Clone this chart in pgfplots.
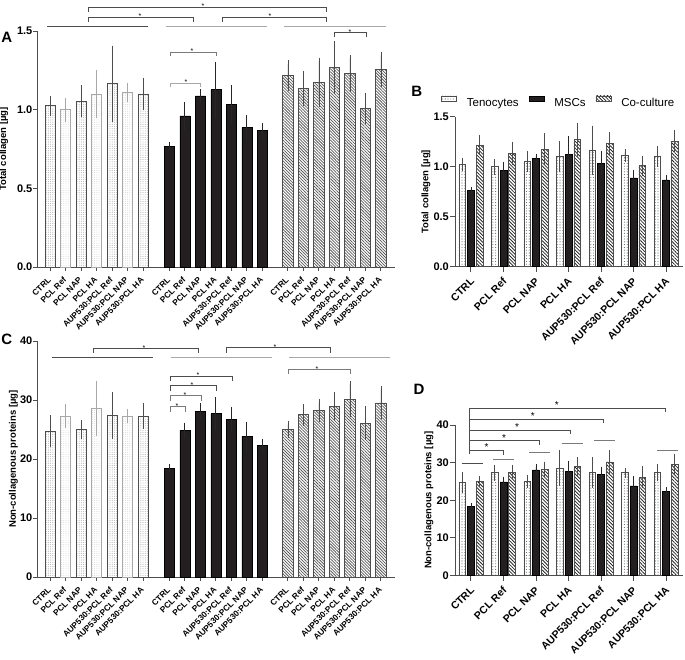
\documentclass[border=0pt]{standalone}
\usepackage{pgfplots}
\usepackage{pgfplotstable}
\pgfplotsset{compat=1.18}
\usepackage{fontspec}
\setmainfont{Liberation Sans}
\usetikzlibrary{patterns.meta}

\definecolor{msc}{HTML}{231F20}
\definecolor{dk}{HTML}{4D4D4D}
\definecolor{lt}{HTML}{A8A8A8}
\definecolor{md}{HTML}{7A7A7A}
\newcommand{\fs}[1]{\fontsize{#1}{#1}\selectfont}

% Total collagen [ug]
\pgfplotstableread{
i y e
0 1.025 0.040
1 1.000 0.055
2 1.053 0.080
3 1.100 0.130
4 1.165 0.220
5 1.110 0.040
6 1.100 0.080
}\colT
\pgfplotstableread{
i y e
0 0.767 0.005
1 0.960 0.065
2 1.087 0.020
3 1.127 0.155
4 1.036 0.097
5 0.888 0.057
6 0.869 0.025
}\colM
\pgfplotstableread{
i y e
0 1.216 0.076
1 1.133 0.090
2 1.174 0.135
3 1.269 0.146
4 1.230 0.097
5 1.010 0.076
6 1.257 0.089
}\colC
% Non-collagenous proteins [ug]
\pgfplotstableread{
i y e
0 24.75 2.10
1 27.30 1.50
2 25.00 1.10
3 28.60 4.10
4 27.35 3.40
5 27.30 0.60
6 27.30 1.60
}\ncT
\pgfplotstableread{
i y e
0 18.47 0.10
1 24.86 0.70
2 28.08 0.80
3 27.68 2.20
4 26.78 1.47
5 23.84 1.90
6 22.37 0.40
}\ncM
\pgfplotstableread{
i y e
0 24.97 0.90
1 27.50 1.25
2 28.25 1.35
3 28.93 1.80
4 30.17 2.50
5 26.10 2.30
6 29.50 2.20
}\ncC

\tikzset{
  sig/.style={font=\fs{7}, anchor=base, inner sep=0pt, yshift=-1.8pt},
  sigD/.style={font=\fs{10}, anchor=base, inner sep=0pt, yshift=-0.5pt},
}
\pgfplotsset{
  panel/.style={
    scale only axis, clip=false,
    axis x line*=bottom, axis y line*=left,
    axis line style={dk, line width=0.9pt},
    tick style={dk, line width=0.9pt},
    tick align=outside,
    ymin=0,
    yticklabel style={font=\fs{11}\bfseries, inner sep=1pt},
    ylabel style={font=\fs{9.5}\bfseries},
  },
  smallpanel/.style={panel, major tick length=3.5pt,
    xticklabel style={font=\fs{8.3}\bfseries, inner sep=0pt, anchor=base east,
      xshift=1.5pt, yshift=-10pt, rotate=45}},
  bigpanel/.style={panel, major tick length=5pt,
    xticklabel style={font=\fs{10.5}\bfseries, inner sep=0pt, anchor=base east,
      xshift=4pt, yshift=-10.5pt, rotate=45}},
  eb/.style n args={3}{error bars/y dir=both, error bars/y explicit,
    error bars/error bar style={#1, line width=#3},
    error bars/error mark options={#1, mark size=#2, line width=#3}},
  % panel A / C styles
  tenAlt/.style={ybar, bar shift=0pt, bar width=0.65, draw=lt, line width=0.8pt,
    pattern={Dots[distance=2.2pt, radius=0.45pt]}, pattern color=gray!40,
    eb={lt}{3.5pt}{0.8pt}},
  tenAdk/.style={ybar, bar shift=0pt, bar width=0.65, draw=dk, line width=0.8pt,
    pattern={Dots[distance=2.2pt, radius=0.45pt]}, pattern color=gray!60,
    eb={dk}{3.5pt}{0.8pt}},
  mscA/.style={ybar, bar shift=0pt, bar width=0.65, draw=black, fill=msc, line width=0.6pt,
    eb={black!85}{3.5pt}{0.8pt}},
  cocA/.style={ybar, bar shift=0pt, bar width=0.65, draw=dk, line width=0.8pt,
    pattern={Lines[angle=-45, distance=2.1pt, line width=0.75pt]}, pattern color=gray!70!black,
    eb={dk}{3.5pt}{0.8pt}},
  % panel B / D styles
  boxlegend/.style={legend image code/.code={\draw[##1] (0pt,2.5pt) rectangle (15pt,7.5pt);}},
  tenB/.style={ybar, bar shift=0pt, bar width=0.206, draw=dk, line width=0.7pt,
    pattern={Dots[distance=2.8pt, radius=0.55pt]}, pattern color=black!60, boxlegend,
    eb={dk}{2.5pt}{0.7pt}},
  mscB/.style={ybar, bar shift=0pt, bar width=0.206, draw=black, fill=msc, line width=0.6pt, boxlegend,
    eb={black!85}{2.5pt}{0.7pt}},
  cocB/.style={ybar, bar shift=0pt, bar width=0.206, draw=dk, line width=0.7pt,
    pattern={Lines[angle=-45, distance=2.4pt, line width=0.8pt]}, pattern color=black!85, boxlegend,
    eb={dk}{2.5pt}{0.7pt}},
}

\begin{document}
\begin{tikzpicture}
\path[use as bounding box] (0pt,0pt) rectangle (685pt,-659pt);

\node[font=\fs{15}\bfseries] at (6.7pt,-37.5pt) {A};
\node[font=\fs{15}\bfseries] at (416.7pt,-91.7pt) {B};
\node[font=\fs{15}\bfseries] at (6.7pt,-339pt) {C};
\node[font=\fs{15}\bfseries] at (419pt,-389pt) {D};

% ---------------- Panel A ----------------
\begin{axis}[smallpanel,
  at={(37pt,-267pt)}, anchor=south west,
  width=358pt, height=236pt,
  xmin=-0.84, xmax=22.26, ymax=1.5,
  ytick={0,0.5,1,1.5}, yticklabels={0.0,0.5,1.0,1.5},
  xtick={0,1,2,3,4,5,6,7.7,8.7,9.7,10.7,11.7,12.7,13.7,15.35,16.35,17.35,18.35,19.35,20.35,21.35},
  xticklabels={CTRL,PCL Ref,PCL NAP,PCL HA,AUP530:PCL Ref,AUP530:PCL NAP,AUP530:PCL HA,
               CTRL,PCL Ref,PCL NAP,PCL HA,AUP530:PCL Ref,AUP530:PCL NAP,AUP530:PCL HA,
               CTRL,PCL Ref,PCL NAP,PCL HA,AUP530:PCL Ref,AUP530:PCL NAP,AUP530:PCL HA},
  ylabel={Total collagen [µg]},
  ylabel style={at={(axis description cs:-0.093,0.5)}, anchor=center},
  filter discard warning=false,
]
\addplot[tenAlt] table[x=i, y=y, y error=e]{\colT};
\addplot[tenAdk, each nth point=2] table[x=i, y=y, y error=e]{\colT};
\addplot[mscA] table[x expr=\thisrow{i}+7.7, y=y, y error=e]{\colM};
\addplot[cocA] table[x expr=\thisrow{i}+15.35, y=y, y error=e]{\colC};

\draw[dk, line width=0.8pt] (axis cs:2.45,1.621) |- (axis cs:17.81,1.653) -- (axis cs:17.81,1.621);
\node[sig] at (axis cs:9.87,1.653) {*};
\draw[dk, line width=0.8pt] (axis cs:2.45,1.557) |- (axis cs:9.23,1.589) -- (axis cs:9.23,1.557);
\node[sig] at (axis cs:5.81,1.589) {*};
\draw[dk, line width=0.8pt] (axis cs:11.10,1.557) |- (axis cs:17.81,1.589) -- (axis cs:17.81,1.557);
\node[sig] at (axis cs:14.19,1.589) {*};
\draw[dk, line width=0.8pt] (axis cs:-0.19,1.532) -- (axis cs:6.32,1.532);
\draw[lt, line width=0.9pt] (axis cs:7.48,1.532) -- (axis cs:14.0,1.532);
\draw[lt, line width=0.9pt] (axis cs:15.1,1.532) -- (axis cs:21.68,1.532);
\draw[md, line width=0.8pt] (axis cs:7.74,1.338) |- (axis cs:10.71,1.367) -- (axis cs:10.71,1.338);
\node[sig] at (axis cs:9.16,1.367) {*};
\draw[lt, line width=0.8pt] (axis cs:7.74,1.141) |- (axis cs:9.68,1.17) -- (axis cs:9.68,1.141);
\node[sig] at (axis cs:8.77,1.17) {*};
\draw[dk, line width=0.8pt] (axis cs:18.32,1.459) |- (axis cs:20.39,1.488) -- (axis cs:20.39,1.459);
\node[sig] at (axis cs:19.35,1.488) {*};
\end{axis}

% ---------------- Panel B ----------------
\begin{axis}[bigpanel,
  at={(455pt,-266.7pt)}, anchor=south west,
  width=228pt, height=150pt,
  xmin=-0.49, xmax=6.52, ymax=1.5,
  ytick={0,0.5,1,1.5}, yticklabels={0.0,0.5,1.0,1.5},
  xtick={0,1,2,3,4,5,6},
  xticklabels={CTRL,PCL Ref,PCL NAP,PCL HA,AUP530:PCL Ref,AUP530:PCL NAP,AUP530:PCL HA},
  ylabel={Total collagen [µg]},
  ylabel style={at={(axis description cs:-0.127,0.5)}, anchor=center},
  legend style={draw=none, fill=none, at={(axis description cs:-0.0614,1.098)}, anchor=west,
    inner sep=0pt, legend columns=3, font=\fs{11.5}, nodes={inner sep=0pt},
    /tikz/every odd column/.append style={column sep=10pt},
    /tikz/every even column/.append style={column sep=10pt}},
]
\addplot[tenB] table[x expr=\thisrow{i}-0.268, y=y, y error=e]{\colT};
\addlegendentry{Tenocytes}
\addplot[mscB] table[x=i, y=y, y error=e]{\colM};
\addlegendentry{MSCs}
\addplot[cocB] table[x expr=\thisrow{i}+0.268, y=y, y error=e]{\colC};
\addlegendentry{Co-culture}
\end{axis}

% ---------------- Panel C ----------------
\begin{axis}[smallpanel,
  at={(37pt,-577pt)}, anchor=south west,
  width=358pt, height=236pt,
  xmin=-0.84, xmax=22.26, ymax=40,
  ytick={0,10,20,30,40}, yticklabels={0,10,20,30,40},
  xtick={0,1,2,3,4,5,6,7.7,8.7,9.7,10.7,11.7,12.7,13.7,15.35,16.35,17.35,18.35,19.35,20.35,21.35},
  xticklabels={CTRL,PCL Ref,PCL NAP,PCL HA,AUP530:PCL Ref,AUP530:PCL NAP,AUP530:PCL HA,
               CTRL,PCL Ref,PCL NAP,PCL HA,AUP530:PCL Ref,AUP530:PCL NAP,AUP530:PCL HA,
               CTRL,PCL Ref,PCL NAP,PCL HA,AUP530:PCL Ref,AUP530:PCL NAP,AUP530:PCL HA},
  ylabel={Non-collagenous proteins [µg]},
  ylabel style={at={(axis description cs:-0.066,0.5)}, anchor=center},
  filter discard warning=false,
]
\addplot[tenAlt] table[x=i, y=y, y error=e]{\ncT};
\addplot[tenAdk, each nth point=2] table[x=i, y=y, y error=e]{\ncT};
\addplot[mscA] table[x expr=\thisrow{i}+7.7, y=y, y error=e]{\ncM};
\addplot[cocA] table[x expr=\thisrow{i}+15.35, y=y, y error=e]{\ncC};

\draw[dk, line width=0.8pt] (axis cs:2.77,37.97) |- (axis cs:9.55,38.76) -- (axis cs:9.55,37.97);
\node[sig] at (axis cs:6.06,38.76) {*};
\draw[dk, line width=0.8pt] (axis cs:11.35,38.0) |- (axis cs:18.11,38.86) -- (axis cs:18.11,38.0);
\node[sig] at (axis cs:14.52,38.86) {*};
\draw[dk, line width=0.8pt] (axis cs:0.13,37.24) -- (axis cs:6.65,37.24);
\draw[lt, line width=0.9pt] (axis cs:7.81,37.24) -- (axis cs:14.32,37.24);
\draw[lt, line width=0.9pt] (axis cs:15.42,37.24) -- (axis cs:21.94,37.24);
\draw[dk, line width=0.8pt] (axis cs:7.74,33.22) |- (axis cs:11.74,34.07) -- (axis cs:11.74,33.22);
\node[sig] at (axis cs:9.55,34.07) {*};
\draw[dk, line width=0.8pt] (axis cs:7.74,31.57) |- (axis cs:10.71,32.42) -- (axis cs:10.71,31.57);
\node[sig] at (axis cs:9.16,32.42) {*};
\draw[md, line width=0.8pt] (axis cs:7.74,29.88) |- (axis cs:9.74,30.73) -- (axis cs:9.74,29.88);
\node[sig] at (axis cs:8.71,30.73) {*};
\draw[md, line width=0.8pt] (axis cs:7.74,28.01) |- (axis cs:8.71,28.86) -- (axis cs:8.71,28.01);
\node[sig] at (axis cs:8.19,28.86) {*};
\draw[md, line width=0.8pt] (axis cs:15.35,34.35) |- (axis cs:19.4,35.2) -- (axis cs:19.4,34.35);
\node[sig] at (axis cs:17.23,35.2) {*};
\end{axis}

% ---------------- Panel D ----------------
\begin{axis}[bigpanel,
  at={(455pt,-575.5pt)}, anchor=south west,
  width=228pt, height=150.5pt,
  xmin=-0.49, xmax=6.52, ymax=40,
  ytick={0,10,20,30,40}, yticklabels={0,10,20,30,40},
  xtick={0,1,2,3,4,5,6},
  xticklabels={CTRL,PCL Ref,PCL NAP,PCL HA,AUP530:PCL Ref,AUP530:PCL NAP,AUP530:PCL HA},
  ylabel={Non-collagenous proteins [µg]},
  ylabel style={at={(axis description cs:-0.114,0.5)}, anchor=center},
]
\addplot[tenB] table[x expr=\thisrow{i}-0.268, y=y, y error=e]{\ncT};
\addplot[mscB] table[x=i, y=y, y error=e]{\ncM};
\addplot[cocB] table[x expr=\thisrow{i}+0.268, y=y, y error=e]{\ncC};

\draw[dk, line width=0.8pt] (axis cs:-0.05,32.3) -- (axis cs:-0.05,44.44) -- (axis cs:5.97,44.44) -- (axis cs:5.97,43.38);
\node[sigD] at (axis cs:2.64,44.44) {*};
\draw[dk, line width=0.8pt] (axis cs:-0.05,41.6) -- (axis cs:4.07,41.6) -- (axis cs:4.07,40.54);
\node[sigD] at (axis cs:1.90,41.6) {*};
\draw[dk, line width=0.8pt] (axis cs:-0.05,38.67) -- (axis cs:3.05,38.67) -- (axis cs:3.05,37.61);
\node[sigD] at (axis cs:1.42,38.67) {*};
\draw[dk, line width=0.8pt] (axis cs:-0.05,35.83) -- (axis cs:2.09,35.83) -- (axis cs:2.09,34.77);
\node[sigD] at (axis cs:1.02,35.83) {*};
\draw[dk, line width=0.8pt] (axis cs:-0.05,33.36) -- (axis cs:0.99,33.36) -- (axis cs:0.99,32.0);
\node[sigD] at (axis cs:0.48,33.36) {*};
\draw[dk, line width=0.8pt] (axis cs:-0.29,29.82) -- (axis cs:0.36,29.82);
\draw[md, line width=0.9pt] (axis cs:0.69,30.96) -- (axis cs:1.32,30.96);
\draw[md, line width=0.9pt] (axis cs:1.79,32.74) -- (axis cs:2.43,32.74);
\draw[md, line width=0.9pt] (axis cs:2.79,35.14) -- (axis cs:3.44,35.14);
\draw[md, line width=0.9pt] (axis cs:3.78,35.83) -- (axis cs:4.43,35.83);
\draw[md, line width=0.9pt] (axis cs:5.73,33.36) -- (axis cs:6.38,33.36);
\end{axis}
\end{tikzpicture}
\end{document}
